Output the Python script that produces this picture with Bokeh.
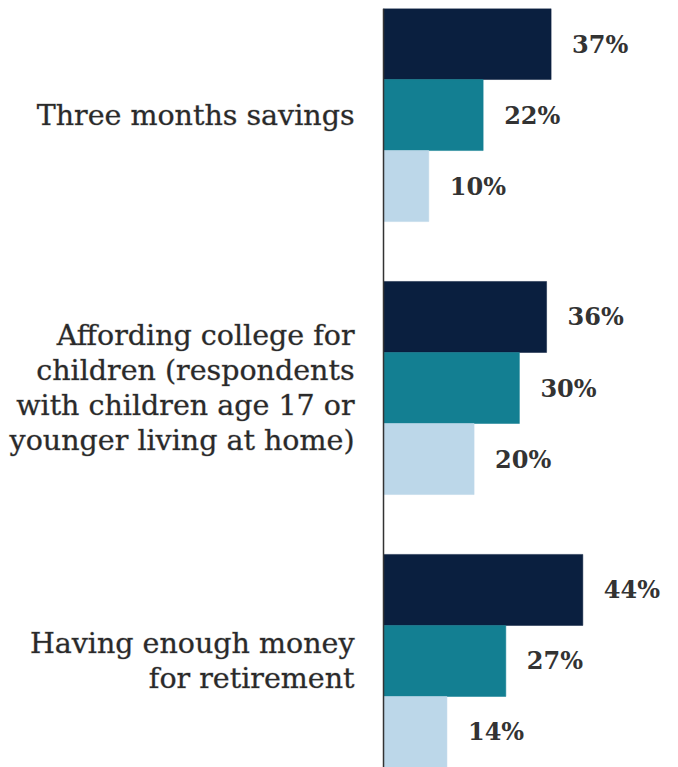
from bokeh.plotting import figure
from bokeh.models import FactorRange, Range1d, ColumnDataSource, Span
from bokeh.core.properties import value
from bokeh.embed import file_html
from bokeh.resources import INLINE

# ---- data ----
category_keys = ["savings", "college", "retirement"]
category_labels = [
    "Three months savings",
    "Affording college for\nchildren (respondents\nwith children age 17 or\nyounger living at home)",
    "Having enough money\nfor retirement",
]
series = ["Group 1", "Group 2", "Group 3"]
values_1 = [37, 36, 44]
values_2 = [22, 30, 27]
values_3 = [10, 20, 14]
series_colors = ["#0A1F3F", "#137F92", "#BCD7E9"]

# ---- build sources ----
all_values = [values_1, values_2, values_3]
ys, xs, cols, labels = [], [], [], []
for ci, c in enumerate(category_keys):
    for si, s in enumerate(series):
        ys.append((c, s))
        xs.append(all_values[si][ci])
        cols.append(series_colors[si])
        labels.append(f"{all_values[si][ci]}%")
bar_src = ColumnDataSource(dict(y=ys, x=xs, color=cols, label=labels))

cat_src = ColumnDataSource(dict(
    y=[(c, series[1]) for c in category_keys],
    x=[0] * len(category_keys),
    text=category_labels,
))

factors = [(c, s) for c in category_keys for s in series][::-1]

p = figure(
    width=678, height=767,
    y_range=FactorRange(*factors, group_padding=0.843, range_padding=0.0),
    x_range=Range1d(-84.55, 65.12),
    output_backend="svg", toolbar_location=None,
    x_axis_location=None, y_axis_location=None,
    min_border=0, min_border_top=8,
)
p.grid.visible = False
p.outline_line_color = None
p.background_fill_color = "white"
p.border_fill_color = "white"

p.hbar(y="y", right="x", left=0, height=1.0, fill_color="color",
       line_color="color", line_width=0.5, source=bar_src)

p.text(x="x", y="y", text="label", x_offset=21, text_align="left",
       text_baseline="middle", text_font=value("DejaVu Serif"),
       text_font_style="bold", text_font_size="24px", text_color="#333333",
       source=bar_src)

p.text(x="x", y="y", text="text", x_offset=-29, text_align="right",
       text_baseline="middle", text_font=value("DejaVu Serif"),
       text_font_size="28.5px", text_color="#2a2a2a", text_line_height=1.07,
       text_outline_color="#2a2a2a4d",
       source=cat_src)

p.add_layout(Span(location=0, dimension="height", line_color="#333333",
                  line_width=1.5))

open("out.html", "w").write(file_html(p, INLINE))
